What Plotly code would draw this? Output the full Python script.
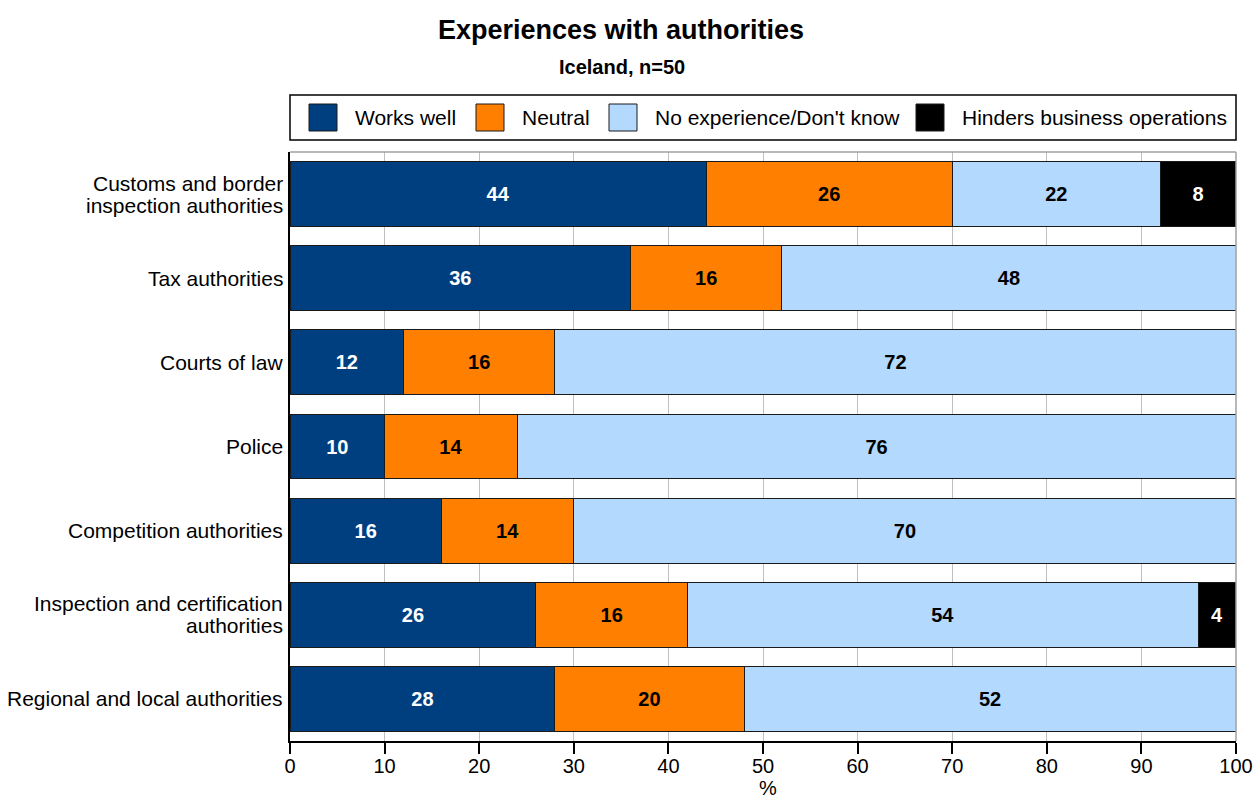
import plotly.graph_objects as go

# Survey categories (top to bottom) and series shares in percent
categories = [
    "Customs and border<br>inspection authorities",
    "Tax authorities",
    "Courts of law",
    "Police",
    "Competition authorities",
    "Inspection and certification<br>authorities",
    "Regional and local authorities",
]
works_well = [44, 36, 12, 10, 16, 26, 28]
neutral = [26, 16, 16, 14, 14, 16, 20]
no_experience = [22, 48, 72, 76, 70, 54, 52]
hinders = [8, 0, 0, 0, 0, 4, 0]

series_names = ["Works well", "Neutral", "No experience/Don't know", "Hinders business operations"]
series_values = [works_well, neutral, no_experience, hinders]
series_colors = ["#003F7F", "#FF7F00", "#B3D9FF", "#000000"]
label_colors = ["white", "black", "black", "white"]

x_ticks = list(range(0, 101, 10))

FONT = "Liberation Sans, Arial, sans-serif"

# plot-area geometry in pixels
W, H = 1256, 801
L, R, T, B = 290, 1236, 152, 741


def px_x(px):
    return (px - L) / (R - L)


def px_y(py):
    return (B - py) / (B - T)


fig = go.Figure()
for name, vals, col, lcol in zip(series_names, series_values, series_colors, label_colors):
    fig.add_trace(go.Bar(
        y=categories,
        x=vals,
        name=name,
        orientation="h",
        marker=dict(color=col, line=dict(color="#1a1a1a", width=1)),
        text=[f"<b>{v}</b>" if v else "" for v in vals],
        textposition="inside",
        insidetextanchor="middle",
        textangle=0,
        textfont=dict(family=FONT, size=20, color=lcol),
        constraintext="none",
        showlegend=False,
        hoverinfo="x+y+name",
    ))

shapes = []
annotations = []

# category labels, drawn line by line for tighter line spacing
LINE_GAP = 22
for cat in categories:
    lines = cat.split("<br>")
    n = len(lines)
    for i, line in enumerate(lines):
        offset = (i - (n - 1) / 2) * LINE_GAP
        annotations.append(dict(text=line, xref="paper", yref="y",
                                x=px_x(285), y=cat, xanchor="right", yanchor="middle",
                                yshift=-offset, showarrow=False,
                                font=dict(family=FONT, size=21, color="black")))

# top and right frame lines of the plot area
shapes.append(dict(type="line", xref="paper", yref="paper", x0=0, x1=1, y0=1, y1=1,
                   line=dict(color="#a0a0a0", width=1.5)))
shapes.append(dict(type="line", xref="paper", yref="paper", x0=1, x1=1, y0=0, y1=1,
                   line=dict(color="#a0a0a0", width=1.5)))

# legend box
shapes.append(dict(type="rect", xref="paper", yref="paper",
                   x0=px_x(290), x1=px_x(1236), y0=px_y(140), y1=px_y(95),
                   line=dict(color="black", width=1.5), fillcolor="white"))
legend_swatch_x = [309, 476, 609, 916]
for sx, name, col in zip(legend_swatch_x, series_names, series_colors):
    shapes.append(dict(type="rect", xref="paper", yref="paper",
                       x0=px_x(sx), x1=px_x(sx + 28), y0=px_y(131), y1=px_y(104),
                       line=dict(color="#1a1a1a", width=1), fillcolor=col))
    annotations.append(dict(text=name, xref="paper", yref="paper",
                            x=px_x(sx + 44), y=px_y(117.5), xanchor="left", yanchor="middle",
                            showarrow=False, font=dict(family=FONT, size=21, color="black")))

# title, subtitle and x-axis unit
annotations.append(dict(text="<b>Experiences with authorities</b>", xref="paper", yref="paper",
                        x=px_x(621), y=px_y(30), xanchor="center", yanchor="middle",
                        showarrow=False, font=dict(family=FONT, size=27, color="black")))
annotations.append(dict(text="<b>Iceland, n=50</b>", xref="paper", yref="paper",
                        x=px_x(622), y=px_y(67), xanchor="center", yanchor="middle",
                        showarrow=False, font=dict(family=FONT, size=20, color="black")))
annotations.append(dict(text="%", xref="paper", yref="paper",
                        x=px_x(768), y=px_y(788), xanchor="center", yanchor="middle",
                        showarrow=False, font=dict(family=FONT, size=20, color="black")))

fig.update_layout(
    width=W, height=H,
    margin=dict(l=L, r=W - R, t=T, b=H - B, pad=0, autoexpand=False),
    barmode="stack",
    bargap=0.23,
    plot_bgcolor="white",
    paper_bgcolor="white",
    font=dict(family=FONT, size=20, color="black"),
    shapes=shapes,
    annotations=annotations,
    showlegend=False,
)

fig.update_xaxes(
    range=[0, 100],
    tickvals=x_ticks,
    automargin=False,
    ticks="outside", ticklen=11, tickcolor="black", tickwidth=1.5,
    showline=True, linecolor="black", linewidth=2,
    showgrid=True, gridcolor="#c0c0c0", gridwidth=1,
    zeroline=False,
    ticklabelstandoff=-5,
    tickfont=dict(family=FONT, size=20),
)
fig.update_yaxes(
    categoryorder="array", categoryarray=categories,
    autorange="reversed",
    automargin=False,
    showline=True, linecolor="black", linewidth=2,
    ticks="", showgrid=False,
    showticklabels=False,
)

fig.write_html("out.html")
